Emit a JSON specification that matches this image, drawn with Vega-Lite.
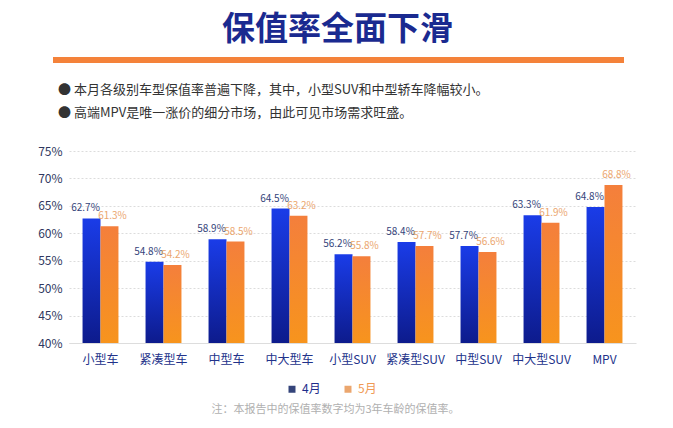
{
  "$schema": "https://vega.github.io/schema/vega-lite/v6.json",
  "background": "white",
  "padding": {"top": 13, "left": 37, "right": 5, "bottom": 5},
  "config": {"font": "Noto Sans CJK SC", "view": {"stroke": null}},
  "spacing": 8,
  "vconcat": [
    {
      "title": {"text": "保值率全面下滑", "fontSize": 33, "fontWeight": "bold", "color": "#1a2a90", "anchor": "middle", "frame": "group", "dx": -17, "offset": 6},
      "width": 571,
      "height": 3,
      "data": {"values": [{"p": 0}]},
      "mark": {"type": "text", "text": ""},
      "encoding": {
        "x": {
          "field": "p", "type": "quantitative", "scale": {"domain": [0, 1]},
          "axis": {"orient": "bottom", "labels": false, "ticks": false, "grid": false, "title": null, "domain": true, "domainColor": "#f4823a", "domainWidth": 6, "offset": 16, "translate": -16}
        }
      }
    },
    {
      "title": {
        "text": ["●  本月各级别车型保值率普遍下降，其中，小型SUV和中型轿车降幅较小。", "●  高端MPV是唯一涨价的细分市场，由此可见市场需求旺盛。"],
        "fontSize": 13, "fontWeight": "normal", "color": "#333333", "anchor": "start", "frame": "group", "dx": -11, "lineHeight": 23, "offset": 25
      },
      "width": 567,
      "height": 192,
      "data": {"values": [
        {"cat": "小型车", "month": "4月", "v": 0.627},
        {"cat": "小型车", "month": "5月", "v": 0.613},
        {"cat": "紧凑型车", "month": "4月", "v": 0.548},
        {"cat": "紧凑型车", "month": "5月", "v": 0.542},
        {"cat": "中型车", "month": "4月", "v": 0.589},
        {"cat": "中型车", "month": "5月", "v": 0.585},
        {"cat": "中大型车", "month": "4月", "v": 0.645},
        {"cat": "中大型车", "month": "5月", "v": 0.632},
        {"cat": "小型SUV", "month": "4月", "v": 0.562},
        {"cat": "小型SUV", "month": "5月", "v": 0.558},
        {"cat": "紧凑型SUV", "month": "4月", "v": 0.584},
        {"cat": "紧凑型SUV", "month": "5月", "v": 0.577},
        {"cat": "中型SUV", "month": "4月", "v": 0.577},
        {"cat": "中型SUV", "month": "5月", "v": 0.566},
        {"cat": "中大型SUV", "month": "4月", "v": 0.633},
        {"cat": "中大型SUV", "month": "5月", "v": 0.619},
        {"cat": "MPV", "month": "4月", "v": 0.648},
        {"cat": "MPV", "month": "5月", "v": 0.688}
      ]},
      "encoding": {
        "x": {
          "field": "cat", "type": "nominal", "sort": null,
          "scale": {"paddingInner": 0.43, "paddingOuter": 0.215},
          "axis": {
            "labelAngle": 0, "labelFontSize": 12, "labelColor": "#22328a", "labelPadding": 11,
            "ticks": false, "domainColor": "#dddddd",
            "title": "注：本报告中的保值率数字均为3年车龄的保值率。",
            "titleFontSize": 11, "titleFontWeight": "normal", "titleColor": "#b0b0b0",
            "titleX": 142, "titleY": 66, "titleAlign": "left", "titleBaseline": "middle", "titleAnchor": "start"
          }
        },
        "xOffset": {"field": "month", "type": "nominal", "scale": {"domain": ["4月", "5月"], "paddingInner": 0, "paddingOuter": 0}},
        "y": {
          "field": "v", "type": "quantitative",
          "scale": {"domain": [0.4, 0.75], "zero": false},
          "axis": {
            "format": ".0%", "values": [0.4, 0.45, 0.5, 0.55, 0.6, 0.65, 0.7, 0.75],
            "domain": false, "ticks": false, "labelPadding": 7,
            "gridDash": [2, 2], "gridColor": "#dcdcdc", "labelColor": "#2f3760", "labelFontSize": 12, "title": null
          }
        }
      },
      "layer": [
        {
          "transform": [{"filter": "datum.month === '4月'"}],
          "mark": {"type": "bar", "fill": {"gradient": "linear", "x1": 0, "y1": 0, "x2": 0, "y2": 1, "stops": [{"offset": 0, "color": "#1a3ce8"}, {"offset": 1, "color": "#0d1b8c"}]}},
          "encoding": {"y2": {"datum": 0.4}}
        },
        {
          "transform": [{"filter": "datum.month === '5月'"}],
          "mark": {"type": "bar", "fill": {"gradient": "linear", "x1": 0, "y1": 0, "x2": 0, "y2": 1, "stops": [{"offset": 0, "color": "#f47f3c"}, {"offset": 1, "color": "#f7941d"}]}},
          "encoding": {"y2": {"datum": 0.4}}
        },
        {
          "transform": [{"filter": "datum.month === '4月'"}],
          "mark": {"type": "text", "baseline": "bottom", "dy": -5, "dx": -6, "fontSize": 10},
          "encoding": {
            "text": {"field": "v", "type": "quantitative", "format": ".1%"},
            "color": {"field": "month", "type": "nominal"}
          }
        },
        {
          "transform": [{"filter": "datum.month === '5月'"}],
          "mark": {"type": "text", "baseline": "bottom", "dy": -5, "dx": 3, "fontSize": 10},
          "encoding": {
            "text": {"field": "v", "type": "quantitative", "format": ".1%"},
            "color": {
              "field": "month", "type": "nominal",
              "scale": {"domain": ["4月", "5月"], "range": ["#34447a", "#eba66e"]},
              "legend": {
                "orient": "none", "legendX": 217, "legendY": 326, "direction": "horizontal", "title": null,
                "symbolType": "square", "symbolSize": 49, "labelFontSize": 12, "columnPadding": 20, "labelOffset": 4,
                "encode": {
                  "symbols": {"update": {"fill": {"signal": "datum.value === '4月' ? '#1a2a9c' : '#f0883a'"}, "stroke": {"value": "transparent"}}},
                  "labels": {"update": {"fill": {"signal": "datum.value === '4月' ? '#1e2d8c' : '#f09a55'"}}}
                }
              }
            }
          }
        }
      ]
    }
  ]
}
